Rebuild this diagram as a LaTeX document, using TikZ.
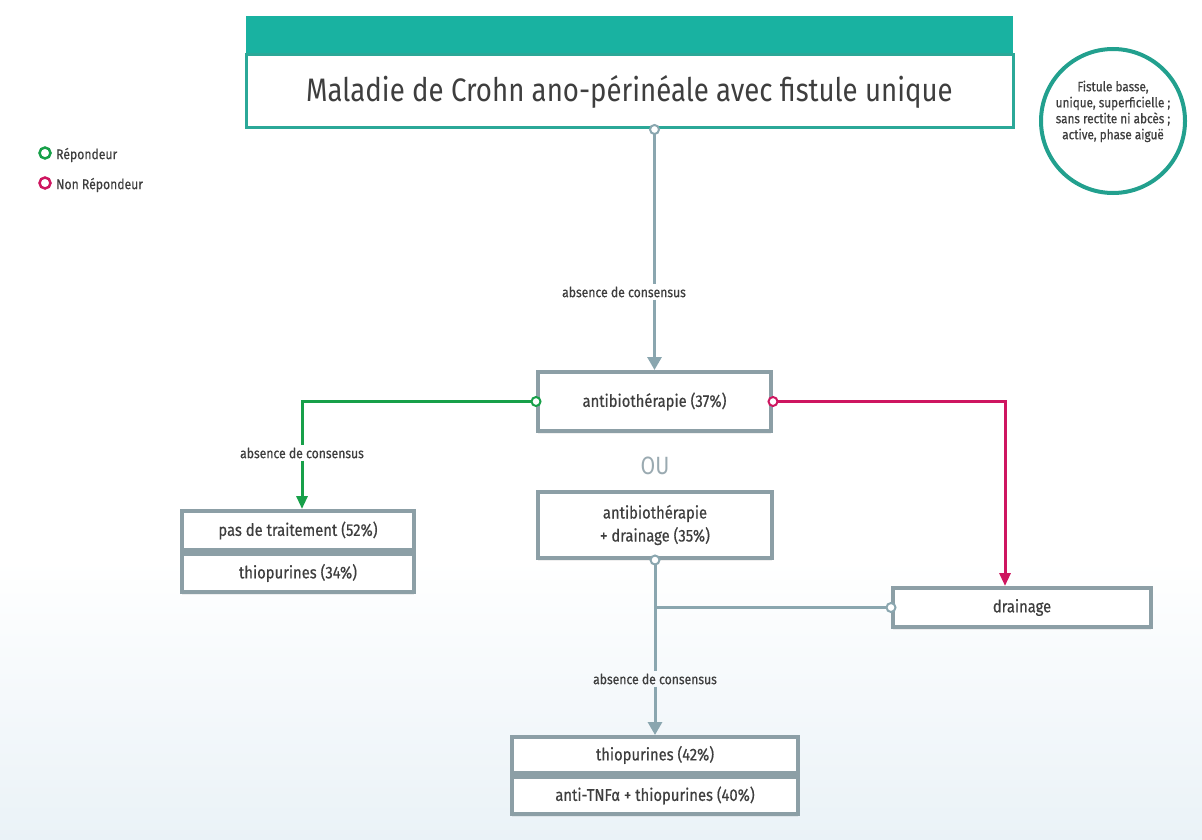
\documentclass[tikz,border=0pt]{standalone}
\usepackage{fontspec}
\setmainfont{Fira Sans}
\newfontfamily\cf{Fira Sans}[FakeStretch=0.87,FakeBold=0.5]
\newfontfamily\tf{Fira Sans}[FakeStretch=0.85]
\usetikzlibrary{arrows.meta,calc,shadows}
\definecolor{tealhdr}{HTML}{19B2A1}
\definecolor{tealbrd}{HTML}{2BA898}
\definecolor{circbrd}{HTML}{22A08E}
\definecolor{grayline}{HTML}{8AA6AF}
\definecolor{boxbrd}{HTML}{8C9FA6}
\definecolor{txt}{HTML}{3E3E3E}
\definecolor{gre}{HTML}{17A049}
\definecolor{mag}{HTML}{CE1660}
\definecolor{ougray}{HTML}{9AAAB1}
\definecolor{bgblue}{HTML}{EAF2F7}
\tikzset{
  boxst/.style={draw=boxbrd, line width=4pt, fill=white, text=txt, inner sep=2pt,
    font=\cf\fontsize{17}{23}\selectfont, align=center,
    drop shadow={opacity=0.12, shadow xshift=0pt, shadow yshift=-3pt}},
  lblst/.style={text=txt, font=\cf\fontsize{14}{16}\selectfont, inner sep=2pt},
  gline/.style={draw=grayline, line width=3pt},
  garrow/.style={gline, -{Triangle[width=14pt,length=13pt]}},
  grline/.style={draw=gre, line width=3pt},
  grarrow/.style={grline, -{Triangle[width=11pt,length=13pt]}},
  magarrow/.style={draw=mag, line width=3pt, -{Triangle[width=11pt,length=13pt]}},
  dotst/.style={circle, fill=white, line width=2pt, minimum size=9pt, inner sep=0pt},
}
\begin{document}
\begin{tikzpicture}[x=1pt,y=-1pt]
\useasboundingbox (0,0) rectangle (1202,840);
\shade[top color=white, bottom color=bgblue] (0,560) rectangle (1202,840);

% title
\node[draw=tealbrd, line width=3pt, fill=white, minimum width=767pt, minimum height=73pt,
  text=txt, font=\tf\fontsize{32.5}{36}\selectfont] (title) at (629.5,91.5)
  {Maladie de Crohn ano-périnéale avec fistule unique};
\node[fill=tealhdr, minimum width=767pt, minimum height=37pt, anchor=south, inner sep=0pt]
  (hdr) at (title.north) {};

% criteria circle
\node[circle, draw=circbrd, line width=4pt, fill=white, minimum size=144pt, inner sep=0pt,
  text=txt, align=center, font=\cf\fontsize{13.5}{16}\selectfont] (crit) at (1113,121)
  {Fistule basse,\\unique, superficielle ;\\sans rectite ni abcès ;\\active, phase aiguë\\[6pt]};

% legend
\node[circle, draw=gre, line width=2.5pt, minimum size=11pt, inner sep=0pt] (lg) at (45,153) {};
\node[lblst, anchor=west] (lgt) at (54,155) {Répondeur};
\node[circle, draw=mag, line width=2.5pt, minimum size=11pt, inner sep=0pt] (lm) at (45,183) {};
\node[lblst, anchor=west] (lmt) at (54,185) {Non Répondeur};

% boxes
\node[boxst, minimum width=233pt, minimum height=59pt] (ab) at (654.5,401.5) {antibiothérapie (37\%)};
\node[text=ougray, font=\tf\fontsize{25}{27}\selectfont] (ou) at (655,466) {OU};
\node[boxst, minimum width=234pt, minimum height=66pt] (ab2) at (655,525)
  {antibiothérapie\\+ drainage (35\%)};
\node[boxst, minimum width=258pt, minimum height=39pt] (drain) at (1022,607.5) {drainage};
\node[boxst, minimum width=232pt, minimum height=39pt] (pas1) at (298,530.5) {pas de traitement (52\%)};
\node[boxst, minimum width=232pt, minimum height=38pt, anchor=north] (pas2) at (pas1.south) {thiopurines (34\%)};
\node[boxst, minimum width=286pt, minimum height=36pt] (th1) at (655,755) {thiopurines (42\%)};
\node[boxst, minimum width=286pt, minimum height=37pt, anchor=north] (th2) at (th1.south) {anti-TNFα + thiopurines (40\%)};

% labels
\node[lblst] (l1) at (624,292) {absence de consensus};
\node[lblst] (l2) at (302,453) {absence de consensus};
\node[lblst] (l3) at (655,679) {absence de consensus};

% connectors
\draw[gline] (ab.north |- title.south) -- (ab.north |- l1.north);
\draw[garrow] (ab.north |- l1.south) -- (ab.north);
\draw[grline] (ab.west) -| (l2.north);
\draw[grarrow] (l2.south) -- (l2.south |- pas1.north);
\draw[magarrow] (ab.east) -| ([xshift=-17pt]drain.north);
\draw[gline] (ab2.south) -- (ab2.south |- l3.north);
\draw[garrow] (ab2.south |- l3.south) -- (th1.north);
\draw[gline] (ab2.south |- drain.west) -- (drain.west);

% connection dots
\node[dotst, draw=grayline] (d1) at (ab.north |- title.south) {};
\node[dotst, draw=gre] (d2) at (ab.west) {};
\node[dotst, draw=mag] (d3) at (ab.east) {};
\node[dotst, draw=grayline] (d4) at (ab2.south) {};
\node[dotst, draw=grayline] (d5) at (drain.west) {};
\end{tikzpicture}
\end{document}
